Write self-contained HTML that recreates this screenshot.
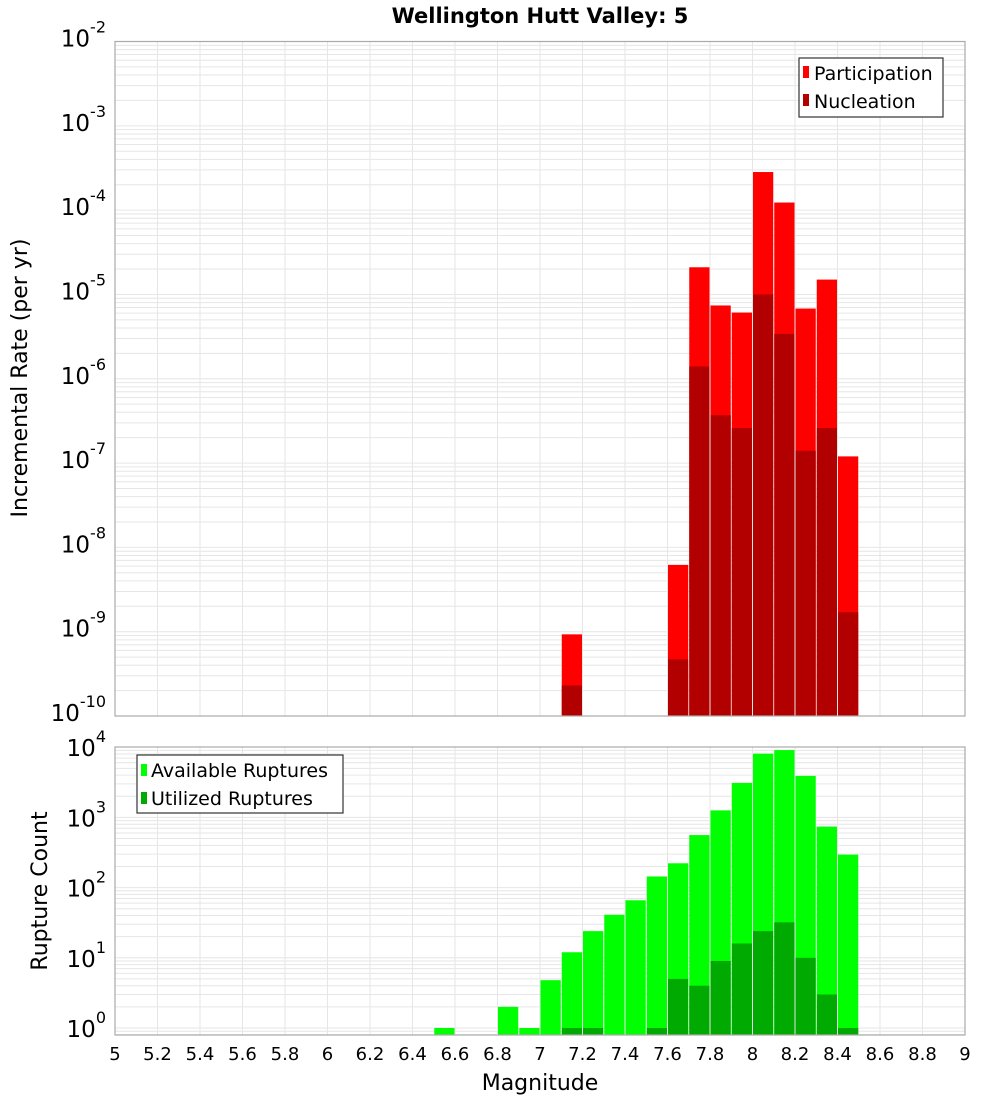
<!DOCTYPE html>
<html><head><meta charset="utf-8"><style>
body{margin:0;background:#fff;}
svg{display:block;font-family:"DejaVu Sans","Liberation Sans",sans-serif;}
</style></head><body>
<svg id="c" width="1000" height="1100" xmlns="http://www.w3.org/2000/svg">
<text x="540" y="23" text-anchor="middle" font-size="21" font-weight="bold">Wellington Hutt Valley: 5</text>
<text transform="translate(27,378) rotate(-90)" text-anchor="middle" font-size="22">Incremental Rate (per yr)</text>
<text transform="translate(47,891) rotate(-90)" text-anchor="middle" font-size="22">Rupture Count</text>
<text x="540" y="1090" text-anchor="middle" font-size="22">Magnitude</text>
<g id="grid"></g><g id="bars"></g><g id="axes"></g>
<g>
<rect x="799" y="58" width="144" height="59" fill="#fff" stroke="#333" stroke-width="1.2"/>
<rect x="803" y="66" width="6" height="12" fill="#ff0000"/>
<text x="814" y="80" font-size="19">Participation</text>
<rect x="803" y="94" width="6" height="12" fill="#b20000"/>
<text x="814" y="108" font-size="19">Nucleation</text>
</g>
<g>
<rect x="137" y="755" width="206" height="58" fill="#fff" stroke="#333" stroke-width="1.2"/>
<rect x="141" y="764" width="6" height="12" fill="#00ff00"/>
<text x="151" y="777" font-size="19">Available Ruptures</text>
<rect x="141" y="792" width="6" height="12" fill="#00aa00"/>
<text x="151" y="805" font-size="19">Utilized Ruptures</text>
</g>
</svg>
<script>
const mags=[6.5,6.8,6.9,7.0,7.1,7.2,7.3,7.4,7.5,7.6,7.7,7.8,7.9,8.0,8.1,8.2,8.3,8.4];
const available=[1,2,1,4.8,12,24,41,66,144,222,560,1260,3100,8100,9100,3900,740,295];
const utilized=[0,0,0,0,1,1,0,0,1,5,4,9,16,24,32,10,3,1];
const rateMags=[7.1,7.6,7.7,7.8,7.9,8.0,8.1,8.2,8.3,8.4];
const participation=[9.3e-10,6.2e-9,2.1e-5,7.4e-6,6.1e-6,2.83e-4,1.23e-4,6.8e-6,1.5e-5,1.2e-7];
const nucleation=[2.3e-10,4.7e-10,1.4e-6,3.7e-7,2.6e-7,1.0e-5,3.4e-6,1.4e-7,2.6e-7,1.7e-9];
const xTicks=['5','5.2','5.4','5.6','5.8','6','6.2','6.4','6.6','6.8','7','7.2','7.4','7.6','7.8','8','8.2','8.4','8.6','8.8','9'];
const topExps=[-2,-3,-4,-5,-6,-7,-8,-9,-10];
const botExps=[0,1,2,3,4];

const NS='http://www.w3.org/2000/svg';
const X0=115,X1=965;
const x=m=>X0+(m-5)/4*(X1-X0);
const TT=41.5,TB=716;
const yTop=v=>TT+(-2-Math.log10(v))*(TB-TT)/8;
const BT=747,BB=1035,B0=1028,BD=70.2;
const yBot=v=>B0-Math.log10(v)*BD;
function el(t,a,p){const e=document.createElementNS(NS,t);for(const k in a)e.setAttribute(k,a[k]);p.appendChild(e);return e;}
const grid=document.getElementById('grid'),bars=document.getElementById('bars'),axes=document.getElementById('axes');
// backgrounds/grid
[[TT,TB,yTop,-10,-2],[BT,BB,yBot,-1,4]].forEach(([t,b,yf,e0,e1],i)=>{
  for(let e=e0;e<e1;e++)for(let k=1;k<10;k++){const yy=yf(k*Math.pow(10,e));if(yy<t||yy>b)continue;
    const g=el('line',{x1:X0,x2:X1,y1:yy,y2:yy,stroke:'#e6e6e6','stroke-width':1},grid);
    
    }
  for(let j=1;j<20;j++){const xx=x(5+j*0.2);
    const g=el('line',{x1:xx,x2:xx,y1:t,y2:b,stroke:'#e6e6e6','stroke-width':1},grid);
    
    }
});
const bw=(X1-X0)/40;
function bar(m,v,yf,base,col,name){if(!v)return;const yy=yf(v);
  const r=el('rect',{x:x(m)+0.5,y:yy,width:bw-1,height:base-yy,fill:col},bars);
  
  }
rateMags.forEach((m,i)=>{bar(m,participation[i],yTop,TB,'#ff0000','participation-bar');bar(m,nucleation[i],yTop,TB,'#b20000','nucleation-bar');});
mags.forEach((m,i)=>{bar(m,available[i],yBot,BB,'#00ff00','available-bar');bar(m,utilized[i],yBot,BB,'#00aa00','utilized-bar');});
// frames
[[TT,TB],[BT,BB]].forEach(([t,b],i)=>{const r=el('rect',{x:X0,y:t,width:X1-X0,height:b-t,fill:'none',stroke:'#aaa','stroke-width':1.2},axes);
  
  });
function expLabel(yy,e,name){const t=el('text',{x:106,y:yy+9,'text-anchor':'end','font-size':23},axes);
  
  
  t.textContent='10';const s=el('tspan',{dy:-14,'font-size':16},t);s.textContent=String(e);
  const s2=el('tspan',{dy:0,'font-size':1},t);s2.textContent='';}
topExps.forEach(e=>{expLabel(yTop(Math.pow(10,e))-4,e,'top-y-tick-label');});
botExps.forEach(e=>{expLabel(yBot(Math.pow(10,e)),e,'bottom-y-tick-label');});
// fix superscript x position: tspans follow "10" naturally
xTicks.forEach(s=>{const t=el('text',{x:x(parseFloat(s)),y:1060,'text-anchor':'middle','font-size':18},axes);
  
  
  t.textContent=s;});
</script>
</body></html>
